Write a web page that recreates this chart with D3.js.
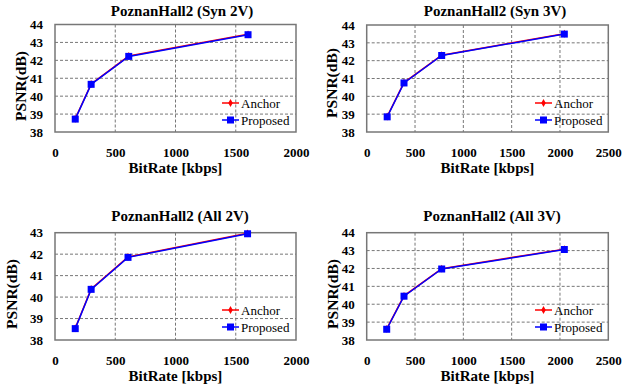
<!DOCTYPE html>
<html lang="en">
<head>
<meta charset="utf-8">
<title>PoznanHall2 RD curves</title>
<script src="https://d3js.org/d3.v7.min.js"></script>
<style>
  body { margin: 0; background: #fff; }
</style>
</head>
<body>
<script>
// chart titles
var titles = ["PoznanHall2 (Syn 2V)", "PoznanHall2 (Syn 3V)", "PoznanHall2 (All 2V)", "PoznanHall2 (All 3V)"];
var seriesNames = ["Anchor", "Proposed"];

// bitrates (kbps)
var rateSyn2V = [168, 300, 612, 1602];
var rateSyn3V = [212, 386, 776, 2045];
var rateAll2V = [168, 300, 606, 1598];
var rateAll3V = [207, 386, 776, 2045];

// PSNR (dB) anchor / proposed
var anchorSyn2V = [38.74, 40.68, 42.24, 43.45];
var proposedSyn2V = [38.72, 40.66, 42.22, 43.43];
var anchorSyn3V = [38.87, 40.77, 42.31, 43.51];
var proposedSyn3V = [38.85, 40.75, 42.29, 43.49];
var anchorAll2V = [38.55, 40.38, 41.87, 42.97];
var proposedAll2V = [38.53, 40.36, 41.85, 42.95];
var anchorAll3V = [38.62, 40.47, 41.99, 43.08];
var proposedAll3V = [38.60, 40.45, 41.97, 43.06];

// axis ticks
var xTicks2000 = [0, 500, 1000, 1500, 2000];
var xTicks2500 = [0, 500, 1000, 1500, 2000, 2500];
var yTicks44 = [38, 39, 40, 41, 42, 43, 44];
var yTicks43 = [38, 39, 40, 41, 42, 43];

var serif = "'Liberation Serif', 'Times New Roman', Times, serif";

var svg = d3.select("body").append("svg")
    .attr("width", 644)
    .attr("height", 387);

var panels = [
  { title: titles[0], rate: rateSyn2V, a: anchorSyn2V, p: proposedSyn2V, xt: xTicks2000, yt: yTicks44,
    x0: 55, x1: 296, y0: 24.5, y1: 132, tx: 182, ty: 16, yl: 21, ylc: 86, lx: 222, ly: 103 },
  { title: titles[1], rate: rateSyn3V, a: anchorSyn3V, p: proposedSyn3V, xt: xTicks2500, yt: yTicks44,
    x0: 366.7, x1: 608.3, y0: 25, y1: 132, tx: 495, ty: 16, yl: 332, ylc: 83, lx: 535, ly: 103 },
  { title: titles[2], rate: rateAll2V, a: anchorAll2V, p: proposedAll2V, xt: xTicks2000, yt: yTicks43,
    x0: 55, x1: 296, y0: 232.7, y1: 340, tx: 180, ty: 221, yl: 12, ylc: 294, lx: 222, ly: 310 },
  { title: titles[3], rate: rateAll3V, a: anchorAll3V, p: proposedAll3V, xt: xTicks2500, yt: yTicks44,
    x0: 366.7, x1: 608.3, y0: 232.7, y1: 340, tx: 492, ty: 221, yl: 333, ylc: 294, lx: 535, ly: 310 }
];

panels.forEach(function (c) {
  var x = d3.scaleLinear().domain([0, d3.max(c.xt)]).range([c.x0, c.x1]);
  var y = d3.scaleLinear().domain([d3.min(c.yt), d3.max(c.yt)]).range([c.y1, c.y0]);
  var g = svg.append("g");

  // grid
  g.selectAll(".vg").data(c.xt.slice(1, -1)).enter().append("line")
    .attr("x1", function (d) { return x(d); }).attr("x2", function (d) { return x(d); })
    .attr("y1", c.y0).attr("y2", c.y1)
    .attr("stroke", "#777").attr("stroke-width", 1).attr("stroke-dasharray", "3,2");
  g.selectAll(".hg").data(c.yt.slice(1, -1)).enter().append("line")
    .attr("y1", function (d) { return y(d); }).attr("y2", function (d) { return y(d); })
    .attr("x1", c.x0).attr("x2", c.x1)
    .attr("stroke", "#777").attr("stroke-width", 1).attr("stroke-dasharray", "3,2");

  // frame
  g.append("rect").attr("x", c.x0).attr("y", c.y0)
    .attr("width", c.x1 - c.x0).attr("height", c.y1 - c.y0)
    .attr("fill", "none").attr("stroke", "#777").attr("stroke-width", 1.5);

  // axes (labels only)
  var xa = g.append("g").attr("transform", "translate(0," + c.y1 + ")")
    .call(d3.axisBottom(x).tickValues(c.xt).tickFormat(d3.format("d")).tickSize(0).tickPadding(16));
  var ya = g.append("g").attr("transform", "translate(" + c.x0 + ",0)")
    .call(d3.axisLeft(y).tickValues(c.yt).tickFormat(d3.format("d")).tickSize(0).tickPadding(12));
  [xa, ya].forEach(function (a) {
    a.select(".domain").remove();
    a.selectAll("text").style("font-family", serif).style("font-weight", "bold")
      .style("font-size", "13px").style("fill", "#000");
  });

  // lines
  var line = d3.line().x(function (d) { return x(d[0]); }).y(function (d) { return y(d[1]); });
  var aPts = d3.zip(c.rate, c.a), pPts = d3.zip(c.rate, c.p);
  g.append("path").datum(aPts).attr("d", line).attr("fill", "none")
    .attr("stroke", "#ff0000").attr("stroke-width", 1.5);
  g.selectAll(".am").data(aPts).enter().append("path")
    .attr("d", d3.symbol(d3.symbolDiamond, 18))
    .attr("transform", function (d) { return "translate(" + x(d[0]) + "," + y(d[1]) + ")"; })
    .attr("fill", "#ff0000");
  g.append("path").datum(pPts).attr("d", line).attr("fill", "none")
    .attr("stroke", "#0000ff").attr("stroke-width", 1.5);
  g.selectAll(".pm").data(pPts).enter().append("rect")
    .attr("x", function (d) { return x(d[0]) - 3.5; })
    .attr("y", function (d) { return y(d[1]) - 3.5; })
    .attr("width", 7).attr("height", 7).attr("fill", "#0000ff");

  // legend
  var lg = g.append("g").attr("transform", "translate(" + c.lx + "," + c.ly + ")");
  lg.append("line").attr("x1", 0).attr("x2", 17).attr("y1", 0).attr("y2", 0)
    .attr("stroke", "#ff0000").attr("stroke-width", 1.5);
  lg.append("path").attr("d", d3.symbol(d3.symbolDiamond, 18)).attr("transform", "translate(8.5,0)")
    .attr("fill", "#ff0000");
  lg.append("text").attr("x", 19).attr("y", 4.5)
    .style("font-family", serif).style("font-size", "13px").text(seriesNames[0]);
  lg.append("line").attr("x1", 0).attr("x2", 17).attr("y1", 17).attr("y2", 17)
    .attr("stroke", "#0000ff").attr("stroke-width", 1.5);
  lg.append("rect").attr("x", 5).attr("y", 13.5).attr("width", 7).attr("height", 7).attr("fill", "#0000ff");
  lg.append("text").attr("x", 19).attr("y", 21.5)
    .style("font-family", serif).style("font-size", "13px").text(seriesNames[1]);

  // titles
  g.append("text").attr("x", c.tx).attr("y", c.ty).attr("text-anchor", "middle")
    .style("font-family", serif).style("font-weight", "bold").style("font-size", "15px").text(c.title);
  g.append("text").attr("x", (c.x0 + c.x1) / 2).attr("y", c.y1 + 41).attr("text-anchor", "middle")
    .style("font-family", serif).style("font-weight", "bold").style("font-size", "15px").text("BitRate [kbps]");
  g.append("text").attr("transform", "translate(" + (c.yl + 5) + "," + c.ylc + ") rotate(-90)")
    .attr("text-anchor", "middle")
    .style("font-family", serif).style("font-weight", "bold").style("font-size", "15.5px").text("PSNR(dB)");
});
</script>
</body>
</html>
